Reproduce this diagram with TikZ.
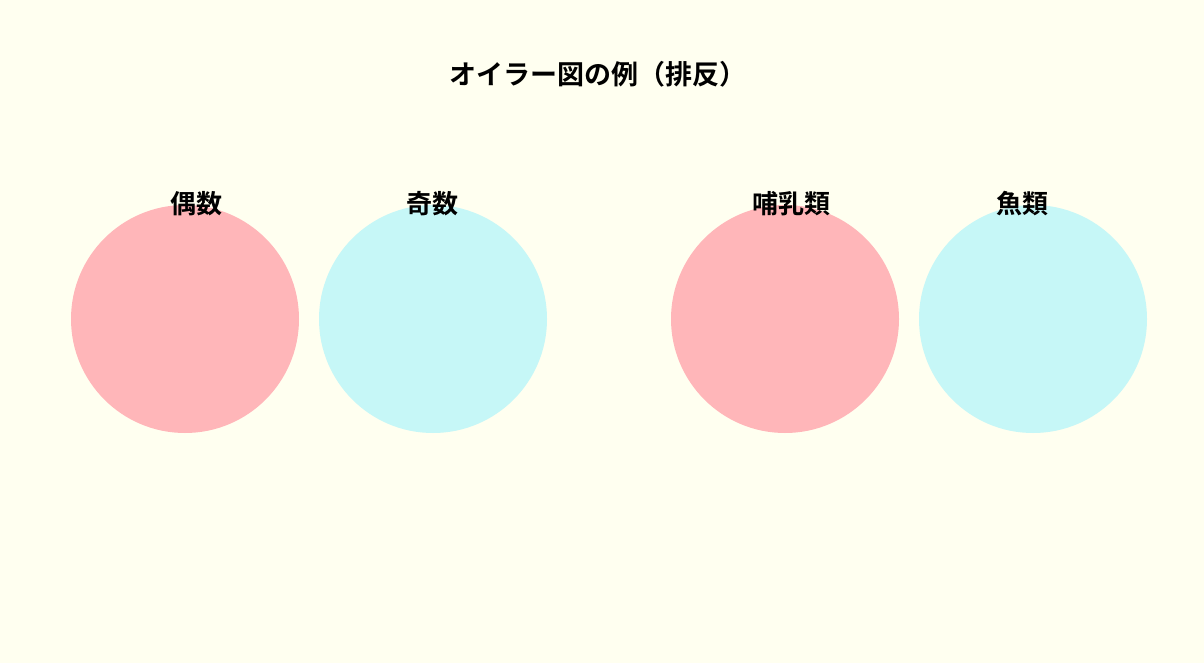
\documentclass[tikz,border=0pt]{standalone}
\usepackage{fontspec}
\newfontfamily\cjkb{Noto Sans CJK JP Bold}
\definecolor{bg}{HTML}{FFFFF0}
\definecolor{pinkc}{HTML}{FFB6B9}
\definecolor{cyanc}{HTML}{C6F7F7}
\begin{document}
\begin{tikzpicture}[x=1pt,y=-1pt,
  setA/.style={fill=pinkc,draw=none},
  setB/.style={fill=cyanc,draw=none},
  lbl/.style={font=\cjkb\fontsize{26}{26}\selectfont,inner sep=0pt,anchor=center},
  ttl/.style={font=\cjkb\fontsize{27}{27}\selectfont,inner sep=0pt,anchor=center}]
\fill[bg] (0,0) rectangle (1204,663);
\useasboundingbox (0,0) rectangle (1204,663);
\node[ttl] (title) at (597.5,74) {オイラー図の例（排反）};
\fill[setA] (185,319) circle (114);
\fill[setB] (433,319) circle (114);
\fill[setA] (785,319) circle (114);
\fill[setB] (1033,319) circle (114);
\node[lbl] (even) at (196,204) {偶数};
\node[lbl] (odd) at (432,204) {奇数};
\node[lbl] (mammal) at (791,204) {哺乳類};
\node[lbl] (fish) at (1022,204) {魚類};
\end{tikzpicture}
\end{document}
